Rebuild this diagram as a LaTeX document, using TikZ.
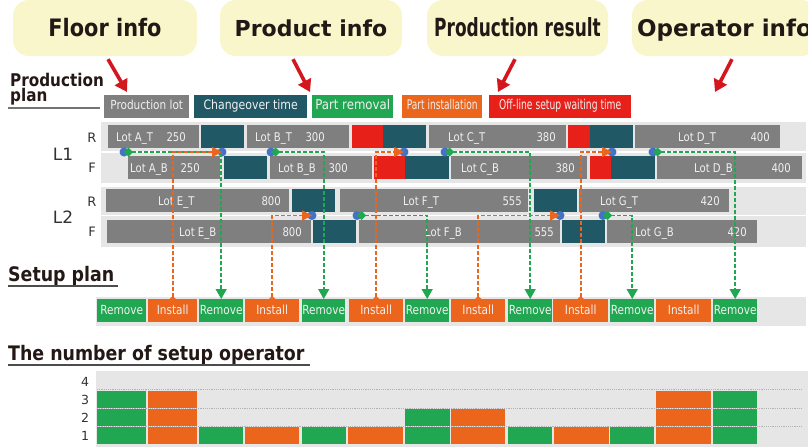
\documentclass[tikz,border=0pt]{standalone}
\usepackage{fontspec}
\setmainfont{DejaVu Sans}
\newfontfamily\narrowfont{DejaVu Sans}[FakeStretch=0.84]
\newfontfamily\headfont{DejaVu Sans}[FakeStretch=0.87]
\newfontfamily\squeezefont{DejaVu Sans}[FakeStretch=0.68]
\usepackage{tikz}
\usetikzlibrary{arrows.meta,positioning}
\usepackage{xcolor}
\definecolor{infoyellow}{RGB}{248,246,202}
\definecolor{arrowred}{RGB}{212,22,30}
\definecolor{lotgray}{RGB}{127,127,127}
\definecolor{chgteal}{RGB}{33,88,102}
\definecolor{rmgreen}{RGB}{33,167,82}
\definecolor{inorange}{RGB}{235,102,28}
\definecolor{waitred}{RGB}{232,32,26}
\definecolor{panel}{RGB}{230,230,230}
\definecolor{pinblue}{RGB}{68,114,196}
\definecolor{headtext}{RGB}{35,24,21}
\definecolor{celltext}{RGB}{240,240,240}
\definecolor{labeltext}{RGB}{50,50,50}
\tikzstyle{info} = [fill=infoyellow, rounded corners=16pt, minimum height=56pt, inner sep=0pt, text height=17pt, text depth=0pt, text=headtext]
\tikzstyle{callout} = [line width=3.6pt, arrowred, -{Triangle[length=12pt,width=14pt]}]
\tikzstyle{cell} = [inner sep=0pt, minimum height=23pt, text height=9.5pt, text depth=2.5pt, text=celltext, font=\narrowfont\fontsize{12.5}{14}\selectfont]
\tikzstyle{lot} = [cell, fill=lotgray]
\tikzstyle{chg} = [cell, fill=chgteal]
\tikzstyle{wait} = [cell, fill=waitred]
\tikzstyle{rmv} = [cell, fill=rmgreen]
\tikzstyle{ins} = [cell, fill=inorange]
\tikzstyle{lottext} = [inner sep=0pt, text=celltext, font=\narrowfont\fontsize{12}{14}\selectfont]
\tikzstyle{heading} = [inner sep=0pt, anchor=base west, text=headtext, font=\headfont\bfseries\fontsize{20}{24}\selectfont]
\tikzstyle{rowlabel} = [inner sep=0pt, text=labeltext, font=\fontsize{13}{15}\selectfont]
\tikzstyle{joint} = [circle, fill=pinblue, inner sep=0pt, minimum size=9pt]
\tikzstyle{removeflow} = [line width=1.6pt, rmgreen, dash pattern=on 4pt off 2pt, {Diamond[length=9pt,width=9pt]}-{Triangle[length=10pt,width=11pt]}]
\tikzstyle{installflow} = [line width=1.6pt, inorange, dash pattern=on 4pt off 2pt, {Triangle[reversed,length=3pt,width=6pt]}-{Triangle[length=10pt,width=10pt]}]
\tikzstyle{underline} = [line width=2pt, color=black!70]
% plain box: style, name, left, right, top, text
\newcommand{\cellbox}[6]{\node[#1, minimum width=#4pt-#3pt, anchor=north west] (#2) at (#3,#5) {#6};}
% lot: name, left, right, top, label x, label, number x, number
\newcommand{\lotbar}[8]{%
  \node[lot, minimum width=#3pt-#2pt, anchor=north west] (#1) at (#2,#4) {};
  \node[lottext, anchor=base west] (#1-name) at (#5,#4+16.5) {#6};
  \node[lottext, anchor=base east] (#1-num) at (#7,#4+16.5) {#8};}

\begin{document}
\begin{tikzpicture}[x=1pt, y=-1pt]
\useasboundingbox (0,0) rectangle (808,447);

% information sources
\node[info, minimum width=184pt, font=\headfont\bfseries\fontsize{24}{26}\selectfont] (floor) at (105,28) {Floor info};
\node[info, minimum width=182pt, font=\bfseries\fontsize{22}{26}\selectfont] (product) at (311,28) {Product info};
\node[info, minimum width=181pt, font=\squeezefont\bfseries\fontsize{25}{26}\selectfont] (result) at (517.5,28) {Production result};
\node[info, minimum width=185pt, font=\bfseries\fontsize{23}{26}\selectfont] (operator) at (724.5,28) {Operator info};
\coordinate (floor-to) at (127,92);
\coordinate (product-to) at (310,92);
\coordinate (result-to) at (498,92);
\coordinate (operator-to) at (715,92);
\draw[callout] ([xshift=3pt,yshift=-3pt]floor.south) -- (floor-to);
\draw[callout] ([xshift=-18pt,yshift=-3pt]product.south) -- (product-to);
\draw[callout] ([xshift=-2.5pt,yshift=-3pt]result.south) -- (result-to);
\draw[callout] ([xshift=7.5pt,yshift=-3pt]operator.south) -- (operator-to);

% production plan and legend
\node[heading, font=\headfont\bfseries\fontsize{17.5}{20}\selectfont] (plan1) at (10,86.5) {Production};
\node[heading, font=\headfont\bfseries\fontsize{17.5}{20}\selectfont] (plan2) at (10,101) {plan};
\draw[underline, color=black!55] (8,108) -- (100,108);
\cellbox{lot}{key-lot}{104}{189}{94.5}{Production lot}
\cellbox{chg, font=\narrowfont\fontsize{13}{15}\selectfont}{key-chg}{194}{307}{94.5}{Changeover time}
\cellbox{rmv, font=\headfont\fontsize{13.5}{15}\selectfont}{key-rmv}{312}{393}{94.5}{Part removal}
\cellbox{ins, font=\squeezefont\fontsize{13.3}{15}\selectfont}{key-ins}{402}{482}{94.5}{Part installation}
\cellbox{wait, font=\squeezefont\fontsize{13.5}{15}\selectfont}{key-wait}{489}{631}{94.5}{Off-line setup waiting time}

% line panels
\fill[panel] (101,122) rectangle (806,183);
\draw[white, line width=1.5pt] (101,152) -- (806,152);
\fill[panel] (101,187) rectangle (806,247);
\draw[white, line width=1.5pt] (101,215.5) -- (806,215.5);
\node[rowlabel, font=\fontsize{17}{20}\selectfont] (l1) at (63,154.5) {L1};
\node[rowlabel] (l1r) at (92,137.5) {R};
\node[rowlabel] (l1f) at (92,167.5) {F};
\node[rowlabel, font=\fontsize{17}{20}\selectfont] (l2) at (63,217.5) {L2};
\node[rowlabel] (l2r) at (92,201.5) {R};
\node[rowlabel] (l2f) at (92,231.5) {F};

% L1
\lotbar{at}{108}{199}{125}{116}{Lot A\_T}{186}{250}
\cellbox{chg}{at-c}{201}{244}{125}{}
\lotbar{bt}{247}{349}{125}{255}{Lot B\_T}{325}{300}
\cellbox{wait}{bt-w}{352}{383}{125}{}
\cellbox{chg}{bt-c}{383}{426}{125}{}
\lotbar{ct}{429}{566}{125}{448}{Lot C\_T}{556}{380}
\cellbox{wait}{ct-w}{568}{590}{125}{}
\cellbox{chg}{ct-c}{590}{633}{125}{}
\lotbar{dt}{635}{780}{125}{678}{Lot D\_T}{770}{400}
\lotbar{ab}{128}{220}{156}{130}{Lot A\_B}{200}{250}
\cellbox{chg}{ab-c}{224}{267}{156}{}
\lotbar{bb}{270}{372}{156}{278}{Lot B\_B}{348}{300}
\cellbox{wait}{bb-w}{374}{405}{156}{}
\cellbox{chg}{bb-c}{405}{449}{156}{}
\lotbar{cb}{451}{587}{156}{461}{Lot C\_B}{575}{380}
\cellbox{wait}{cb-w}{590}{611}{156}{}
\cellbox{chg}{cb-c}{611}{655}{156}{}
\lotbar{db}{657}{802}{156}{694}{Lot D\_B}{791}{400}

% L2
\lotbar{et}{106}{289}{189}{158}{Lot E\_T}{281}{800}
\cellbox{chg}{et-c}{292}{335}{189}{}
\lotbar{ft}{340}{528}{189}{403}{Lot F\_T}{522}{555}
\cellbox{chg}{ft-c}{534}{577}{189}{}
\lotbar{gt}{579}{729}{189}{600}{Lot G\_T}{720}{420}
\lotbar{eb}{107}{311}{220}{179}{Lot E\_B}{302}{800}
\cellbox{chg}{eb-c}{313}{356}{220}{}
\lotbar{fb}{359}{560}{220}{425}{Lot F\_B}{554}{555}
\cellbox{chg}{fb-c}{562}{605}{220}{}
\lotbar{gb}{607}{757}{220}{635}{Lot G\_B}{747}{420}

% setup plan
\node[heading] (setup) at (8,281) {Setup plan};
\draw[underline] (8,285.5) -- (118,285.5);
\fill[panel] (96,297) rectangle (806,326);
\cellbox{rmv}{rm1}{97}{146}{299}{Remove}
\cellbox{ins}{in1}{148}{197}{299}{Install}
\cellbox{rmv}{rm2}{199}{243}{299}{Remove}
\cellbox{ins}{in2}{245}{299}{299}{Install}
\cellbox{rmv}{rm3}{302}{345}{299}{Remove}
\cellbox{ins}{in3}{349}{403}{299}{Install}
\cellbox{rmv}{rm4}{405}{449}{299}{Remove}
\cellbox{ins}{in4}{451}{505}{299}{Install}
\cellbox{rmv}{rm5}{508}{552}{299}{Remove}
\cellbox{ins}{in5}{553}{608}{299}{Install}
\cellbox{rmv}{rm6}{610}{654}{299}{Remove}
\cellbox{ins}{in6}{656}{711}{299}{Install}
\cellbox{rmv}{rm7}{713}{757}{299}{Remove}

% change points
\node[joint] (p1) at (124,152) {};
\node[joint] (p2) at (222,152) {};
\node[joint] (p3) at (271,152) {};
\node[joint] (p4) at (404,152) {};
\node[joint] (p5) at (445,152) {};
\node[joint] (p6) at (612,152) {};
\node[joint] (p7) at (653,152) {};
\node[joint] (p8) at (312,215.5) {};
\node[joint] (p9) at (357,215.5) {};
\node[joint] (p10) at (560,215.5) {};
\node[joint] (p11) at (603,215.5) {};
\draw[removeflow] (p1.center) -| (rm2.north);
\draw[installflow] (in1.north) |- (p2.center);
\draw[removeflow] (p3.center) -| (rm3.north);
\draw[installflow] (in3.north) |- (p4.center);
\draw[removeflow] (p5.center) -| (rm5.north);
\draw[installflow] (in5.north) |- (p6.center);
\draw[removeflow] (p7.center) -| (rm7.north);
\draw[installflow] (in2.north) |- (p8.center);
\draw[removeflow] (p9.center) -| (rm4.north);
\draw[installflow] (in4.north) |- (p10.center);
\draw[removeflow] (p11.center) -| (rm6.north);

% operator count
\node[heading] (count) at (8,360.5) {The number of setup operator};
\draw[underline] (8,364.5) -- (310,364.5);
\fill[panel] (96,371) rectangle (808,447);
\foreach \xa/\xb/\n/\col in {97/146/3/rmgreen, 148/197/3/inorange, 199/243/1/rmgreen, 245/299/1/inorange,
  302/346/1/rmgreen, 348/403/1/inorange, 405/450/2/rmgreen, 451/505/2/inorange, 508/552/1/rmgreen,
  554/609/1/inorange, 610/654/1/rmgreen, 656/711/3/inorange, 713/757/3/rmgreen}
  \foreach \k in {1,...,\n}
    \fill[\col] (\xa,{427-(\k-1)*18}) rectangle (\xb,{443.5-(\k-1)*18});
\foreach \yy in {389.5,408.3,426.3}
  \draw[black!30, line width=1.2pt, densely dotted] (97,\yy) -- (803,\yy);
\node[rowlabel, font=\fontsize{12.5}{15}\selectfont] (n4) at (85,382) {4};
\node[rowlabel, font=\fontsize{12.5}{15}\selectfont] (n3) at (85,399.5) {3};
\node[rowlabel, font=\fontsize{12.5}{15}\selectfont] (n2) at (85,417.5) {2};
\node[rowlabel, font=\fontsize{12.5}{15}\selectfont] (n1) at (85,436) {1};
\end{tikzpicture}
\end{document}
